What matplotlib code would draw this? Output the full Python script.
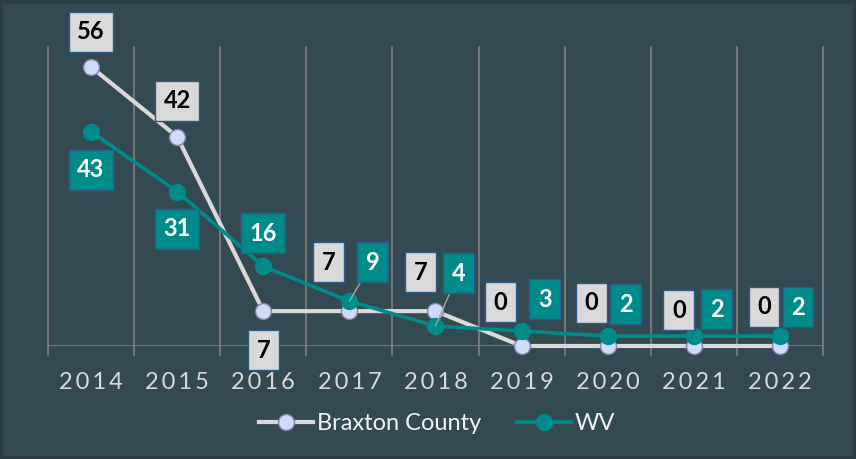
import matplotlib.pyplot as plt
from matplotlib.patches import Rectangle
from matplotlib.lines import Line2D

years = ['2014', '2015', '2016', '2017', '2018', '2019', '2020', '2021', '2022']
braxton = [56, 42, 7, 7, 7, 0, 0, 0, 0]
wv = [43, 31, 16, 9, 4, 3, 2, 2, 2]

# label offsets in pixels (dx, dy up) from each point
brax_off = [(0, 35), (0, 36), (0, -39), (-21, 49), (-15, 39), (-21, 44), (-16, 43), (-15, 36), (-16, 39)]
wv_off = [(0, -38), (0, -37), (0, 33), (23, 39), (23, 53), (23, 32), (18, 32), (23, 27), (18, 29)]
wv_leader = [False, False, False, True, True, False, False, False, False]

bg = '#334a52'
grid_c = '#7f7f7f'
brax_c = '#d9d9d9'
wv_c = '#008b8b'
box_edge = '#2f5b8a'

plt.rcParams['font.family'] = ['Lato', 'DejaVu Sans']

fig = plt.figure(figsize=(8.56, 4.59), dpi=100)
fig.patch.set_facecolor('#2d3e45')
fig.patches.append(Rectangle((3 / 856, 3 / 459), 850 / 856, 452 / 459, transform=fig.transFigure,
                             facecolor=bg, edgecolor='none', zorder=-10))

ax = fig.add_axes([48 / 856, (459 - 346) / 459, 775 / 856, 299 / 459])
ax.set_facecolor('none')
x = list(range(len(years)))
ax.set_xlim(-0.5, len(years) - 0.5)
ax.set_ylim(0, 60)

# vertical gridlines at category edges, with outward tick marks
for b in [i - 0.5 for i in range(len(years) + 1)]:
    ax.plot([b, b], [-1.8, 60], color=grid_c, lw=1.2, clip_on=False, zorder=1)
ax.axhline(0, color=grid_c, lw=1.2, zorder=1)
for s in ax.spines.values():
    s.set_visible(False)
ax.set_yticks([])
ax.set_xticks(x)
ax.set_xticklabels(['\u2009'.join(list(y)) for y in years], color=brax_c, fontsize=17)
ax.tick_params(axis='x', length=0, pad=19)

ax.plot(x, braxton, color=brax_c, lw=3, marker='o', ms=11.5, mfc='#d0dcf5', mec='#8482a8', mew=1,
        zorder=3, label='Braxton County', clip_on=False)
ax.plot(x, wv, color=wv_c, lw=2.6, marker='o', ms=11.5, mfc=wv_c, mec=wv_c,
        zorder=4, label='WV', clip_on=False)

k = 0.72  # px -> pt
for i in x:
    dx, dy = brax_off[i]
    ax.annotate(str(braxton[i]), (i, braxton[i]), xytext=(dx * k, dy * k), textcoords='offset points',
                ha='center', va='center', fontsize=17, fontweight='bold', color='black',
                bbox=dict(boxstyle='square,pad=0.36', fc='#d9d9d9', ec=box_edge, lw=1), zorder=6)
    dx, dy = wv_off[i]
    arrow = dict(arrowstyle='-', color='#a6a6a6', lw=1, shrinkA=0, shrinkB=0) if wv_leader[i] else None
    ax.annotate(str(wv[i]), (i, wv[i]), xytext=(dx * k, dy * k), textcoords='offset points',
                ha='center', va='center', fontsize=17, fontweight='bold', color='white',
                bbox=dict(boxstyle='square,pad=0.36', fc=wv_c, ec=box_edge, lw=1),
                arrowprops=arrow, zorder=6)

handles = [Line2D([], [], color=brax_c, lw=3, marker='o', ms=11.5, mfc='#d0dcf5', mec='#8482a8'),
           Line2D([], [], color=wv_c, lw=2.6, marker='o', ms=11.5, mfc=wv_c, mec=wv_c)]
leg = fig.legend(handles, ['Braxton County', 'WV'], loc='center', bbox_to_anchor=(437 / 856, 1 - 424 / 459),
                 ncol=2, frameon=False, fontsize=17, handlelength=2.3, handletextpad=0.15,
                 columnspacing=1.5, labelcolor='#f2f2f2')

fig.savefig('out.png', dpi=100, facecolor=fig.get_facecolor())
